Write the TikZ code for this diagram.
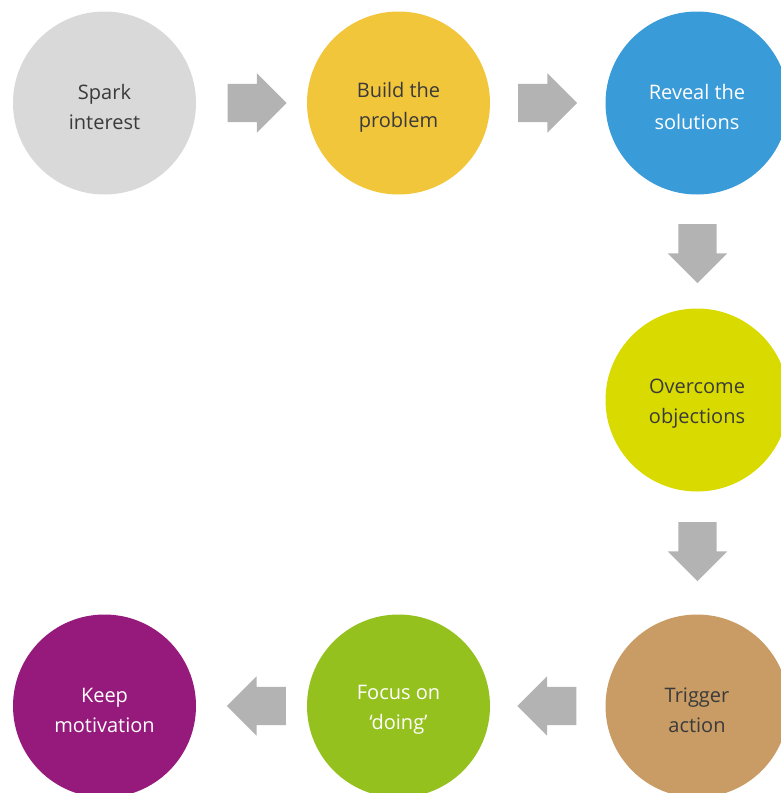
\documentclass[tikz,border=0pt]{standalone}
\usepackage{fontspec}
\setmainfont{Open Sans}
\usetikzlibrary{shapes.arrows}
\definecolor{cspark}{HTML}{D9D9D9}
\definecolor{cbuild}{HTML}{F2C63B}
\definecolor{creveal}{HTML}{3A9BD9}
\definecolor{cover}{HTML}{D9DB00}
\definecolor{ctrigger}{HTML}{C89C64}
\definecolor{cfocus}{HTML}{95C11F}
\definecolor{ckeep}{HTML}{951A7C}
\definecolor{arrowgray}{HTML}{B3B3B3}
\definecolor{darktext}{HTML}{3A3A3A}
\begin{document}
\begin{tikzpicture}[x=1pt,y=-1pt,
  stage/.style={circle, minimum size=183pt, inner sep=0pt},
  stagetext/.style={align=center, yshift=-4pt, inner sep=0pt,
    font=\fontsize{20}{30}\selectfont},
  darklabel/.style={label={[stagetext, text=darktext]center:{#1}}},
  lightlabel/.style={label={[stagetext, text=white]center:{#1}}},
  blockarrow/.style={single arrow, fill=arrowgray, draw=none,
    minimum width=59pt, single arrow head extend=10.5pt,
    single arrow tip angle=90, minimum height=59pt, inner sep=0pt,
    node contents={\vrule width 0pt height 38pt depth 0pt}}]
\useasboundingbox (0,0) rectangle (781,793);
\node[stage, fill=cspark, darklabel={Spark\\interest}] (spark) at (104.5,103) {};
\node[stage, fill=cbuild, darklabel={Build the\\problem}] (build) at (398.5,103) {};
\node[stage, fill=creveal, lightlabel={Reveal the\\solutions}] (reveal) at (697,103) {};
\node[stage, fill=cover, darklabel={Overcome\\objections}] (over) at (697,400) {};
\node[stage, fill=ctrigger, darklabel={Trigger\\action}] (trigger) at (697,706) {};
\node[stage, fill=cfocus, lightlabel={Focus on\\‘doing’}] (focus) at (398.5,706) {};
\node[stage, fill=ckeep, lightlabel={Keep\\motivation}] (keep) at (104.5,706) {};
\node (a1) at (247.5,103) [blockarrow];
\node (a2) at (538,103) [blockarrow];
\node (a3) at (697.5,244) [blockarrow, rotate=270];
\node (a4) at (697.5,542) [blockarrow, rotate=270];
\node (a5) at (556.5,706) [blockarrow, rotate=180];
\node (a6) at (266,706) [blockarrow, rotate=180];
\end{tikzpicture}
\end{document}
